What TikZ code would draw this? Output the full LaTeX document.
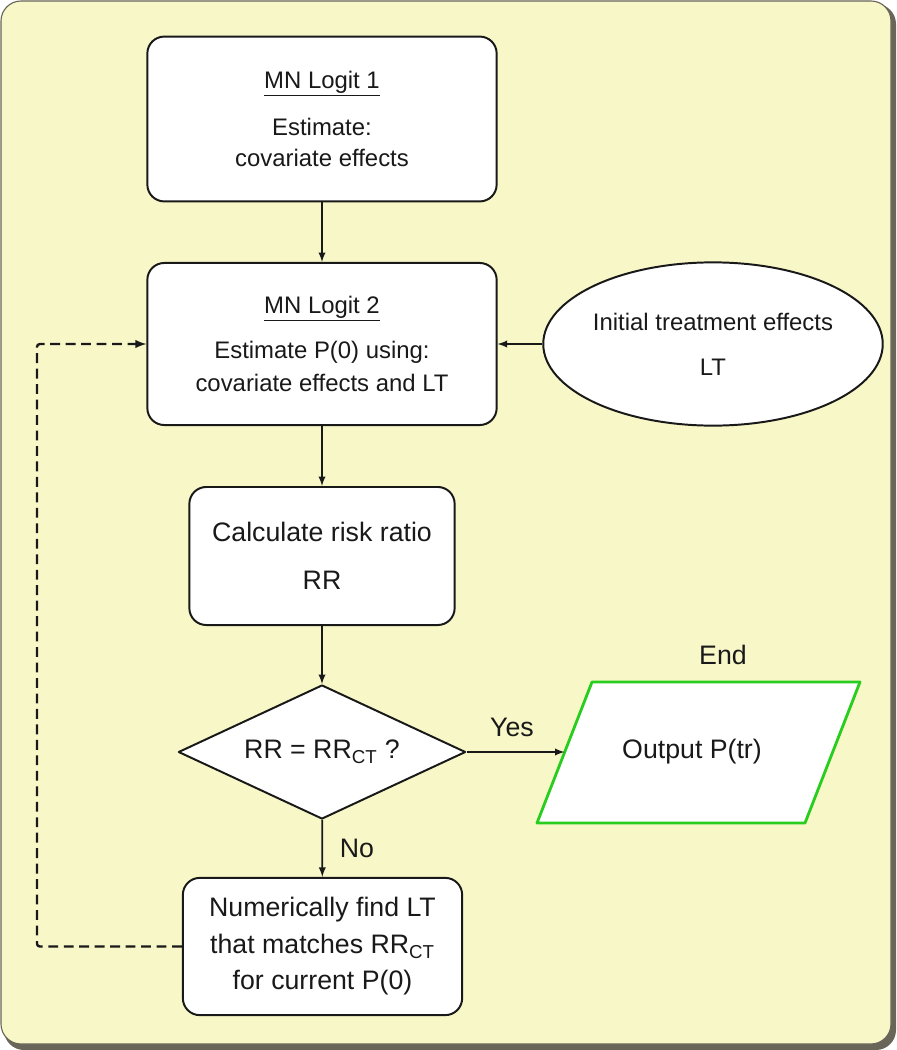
\documentclass[tikz,border=0pt]{standalone}
\usepackage{fontspec}
\setmainfont{Liberation Sans}
\usetikzlibrary{shapes.geometric}
\definecolor{panel}{RGB}{248,247,200}
\definecolor{rim}{RGB}{105,101,88}
\definecolor{ink}{RGB}{25,25,25}
\definecolor{outgreen}{RGB}{40,205,30}
\newcommand{\fsmall}{\fontsize{17}{22}\selectfont}
\newcommand{\fbig}{\fontsize{19}{26}\selectfont}

\begin{document}
\begin{tikzpicture}[x=0.025cm,y=-0.025cm,>=latex,line join=round,text=ink,
	box/.style={draw=ink,fill=white,rounded corners=12pt,line width=1.4pt,align=center,inner sep=0pt},
	decide/.style={diamond,aspect=2.14,draw=ink,fill=white,line width=1.4pt,inner sep=0pt,minimum width=7.18cm,minimum height=3.35cm,font=\fbig},
	link/.style={->,draw=ink,line width=1.3pt}]
	\useasboundingbox (0,0) rectangle (896,1050);
	\fill[rim,rounded corners=0.5cm] (4,4) rectangle (896,1050);
	\draw[rim,line width=0.8pt,fill=panel,rounded corners=0.5cm] (1,1) rectangle (891,1044);
	\node[box,minimum width=8.73cm,minimum height=4.12cm,font=\fsmall] (mn1) at (322,119) {\underline{MN Logit 1}\\[12pt]Estimate:\\covariate effects};
	\node[box,minimum width=8.73cm,minimum height=4.05cm,font=\fsmall] (mn2) at (322,344) {\underline{MN Logit 2}\\[10pt]Estimate P(0) using:\\[2pt]covariate effects and LT};
	\node[ellipse,draw=ink,fill=white,line width=1.4pt,minimum width=7.5cm,minimum height=4.08cm,inner sep=0pt,align=center,font=\fsmall] (lt) at (713,344) {Initial treatment effects\\[10pt]LT};
	\node[box,minimum width=6.63cm,minimum height=3.45cm,font=\fbig] (ratio) at (322,556) {Calculate risk ratio\\[8pt]RR};
	\node[decide] (check) at (322,752) {RR = RR\textsubscript{CT} ?};
	% output parallelogram
	\draw[outgreen,line width=2pt,fill=white] (537,823) -- (592,682) -- (860,682) -- (805,823) -- cycle;
	\coordinate (inlet) at (564.5,752);
	\node[font=\fbig] (output) at (692,752) {Output P(tr)};
	\node[box,minimum width=6.98cm,minimum height=3.43cm,font=\fbig] (search) at (322.5,946.5) {Numerically find LT\\that matches RR\textsubscript{CT}\\for current P(0)};
	\node[font=\fbig] (yes) at (512,727) {Yes};
	\node[font=\fbig] (no) at (357,848) {No};
	\node[font=\fbig] (endlbl) at (723,655) {End};
	\coordinate (back) at (37,0);
	% main flow
	\draw[link] (mn1) -- (mn2);
	\draw[link] (lt) -- (mn2);
	\draw[link] (mn2) -- (ratio);
	\draw[link] (ratio) -- (check);
	\draw[link] (check) -- (inlet);
	\draw[link] (check) -- (search);
	% loop back
	\draw[link,line width=1.7pt,dash pattern=on 7pt off 4pt,rounded corners=2pt] (search.west) -- (search.west -| back) |- (mn2.west);
\end{tikzpicture}
\end{document}
